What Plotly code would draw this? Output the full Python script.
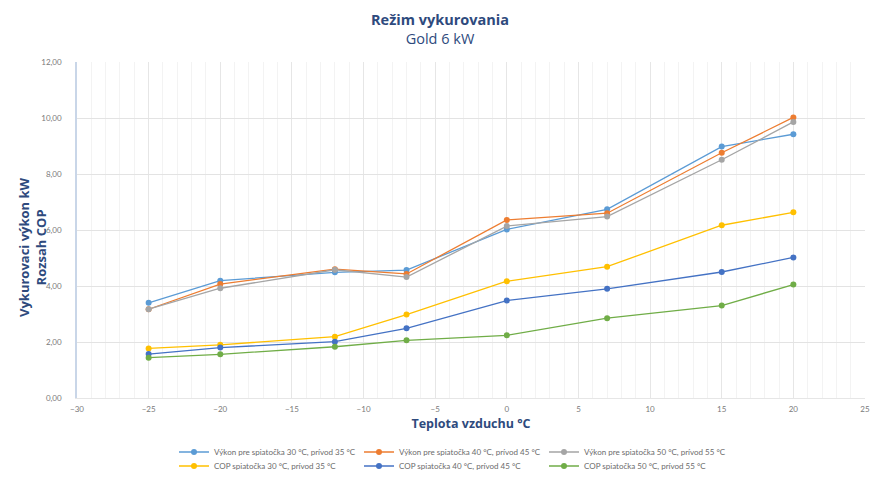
import plotly.graph_objects as go

temps = [-25, -20, -12, -7, 0, 7, 15, 20]

vykon_30_35 = [3.40, 4.19, 4.49, 4.57, 6.02, 6.74, 8.98, 9.42]
vykon_40_45 = [3.17, 4.07, 4.60, 4.43, 6.36, 6.60, 8.76, 10.02]
vykon_50_55 = [3.17, 3.92, 4.58, 4.32, 6.14, 6.48, 8.51, 9.86]
cop_30_35 = [1.77, 1.90, 2.19, 2.98, 4.17, 4.69, 6.17, 6.63]
cop_40_45 = [1.57, 1.80, 2.01, 2.49, 3.48, 3.90, 4.50, 5.02]
cop_50_55 = [1.44, 1.56, 1.83, 2.06, 2.24, 2.85, 3.30, 4.05]

series_names = [
    "Výkon pre spiatočka 30 °C, prívod 35 °C",
    "Výkon pre spiatočka 40 °C, prívod 45 °C",
    "Výkon pre spiatočka 50 °C, prívod 55 °C",
    "COP spiatočka 30 °C, prívod 35 °C",
    "COP spiatočka 40 °C, prívod 45 °C",
    "COP spiatočka 50 °C, prívod 55 °C",
]
series_values = [vykon_30_35, vykon_40_45, vykon_50_55, cop_30_35, cop_40_45, cop_50_55]
colors = ["#5B9BD5", "#ED7D31", "#A5A5A5", "#FFC000", "#4472C4", "#70AD47"]
legends = ["legend", "legend", "legend", "legend2", "legend2", "legend2"]

navy = "#2E4A7D"
title_font = "Open Sans, sans-serif"
small_font = "Lato, Open Sans, sans-serif"

fig = go.Figure()
for name, vals, col, lg in zip(series_names, series_values, colors, legends):
    fig.add_trace(go.Scatter(
        x=temps, y=vals, name=name, mode="lines+markers",
        line=dict(color=col, width=1.3),
        marker=dict(color=col, size=6),
        legend=lg,
    ))

W, H = 883, 485
OFF = 8  # page body offset
ml, mr, mt, mb = 77 - OFF, W - 865 + OFF, 62 - OFF, H - 398 + OFF
pw = W - ml - mr
ph = H - mt - mb


def px_x(xs):
    return (xs - OFF - ml) / pw


def px_y(ys):
    return (H - mb - (ys - OFF)) / ph


legend_common = dict(
    orientation="h", xref="container", yref="container",
    xanchor="left", yanchor="middle",
    font=dict(size=8, color="#6b6b6b", family=small_font),
    entrywidth=140, entrywidthmode="pixels",
    itemwidth=30, tracegroupgap=0,
    bgcolor="rgba(0,0,0,0)",
)

fig.update_layout(
    width=W, height=H,
    margin=dict(l=ml, r=mr, t=mt, b=mb, autoexpand=False),
    paper_bgcolor="white", plot_bgcolor="white",
    separators=", ",
    font=dict(family=small_font),
    showlegend=True,
    legend=dict(x=166 / W, y=1 - 444 / H, **legend_common),
    legend2=dict(x=166 / W, y=1 - 458 / H, **legend_common),
    xaxis=dict(
        range=[-30, 25], dtick=5, tick0=-30, automargin=False,
        showgrid=True, gridcolor="#e6e6e6", gridwidth=1,
        minor=dict(dtick=1, showgrid=True, gridcolor="#f3f3f3", gridwidth=1),
        zeroline=False, showline=True, linecolor="#e6e6e6",
        tickfont=dict(size=8, color="#7a7a7a", family=small_font),
        ticklabelstandoff=3,
        title=dict(text="<b>Teplota vzduchu °C</b>", font=dict(size=12.5, color=navy, family=title_font), standoff=6),
        ticks="",
    ),
    yaxis=dict(
        range=[0, 12], dtick=2, tickformat=".2f", automargin=False,
        showgrid=True, gridcolor="#e3e3e3", gridwidth=1,
        zeroline=False, showline=True, linecolor="#c9d6e8", linewidth=1.5,
        tickfont=dict(size=8, color="#7a7a7a", family=small_font),
        ticklabelstandoff=12,
        ticks="",
    ),
    annotations=[
        dict(text="<b>Režim vykurovania</b><br>Gold 6 kW", xref="paper", yref="paper",
             x=px_x(440), y=px_y(29), showarrow=False,
             font=dict(size=14.5, color=navy, family=title_font), xanchor="center", yanchor="middle"),
        dict(text="<b>Vykurovaci výkon kW<br>Rozsah COP</b>", xref="paper", yref="paper",
             x=px_x(32), y=px_y(247), showarrow=False, textangle=-90,
             font=dict(size=13, color=navy, family=title_font), xanchor="center", yanchor="middle"),
    ],
)

fig.write_html("out.html")
